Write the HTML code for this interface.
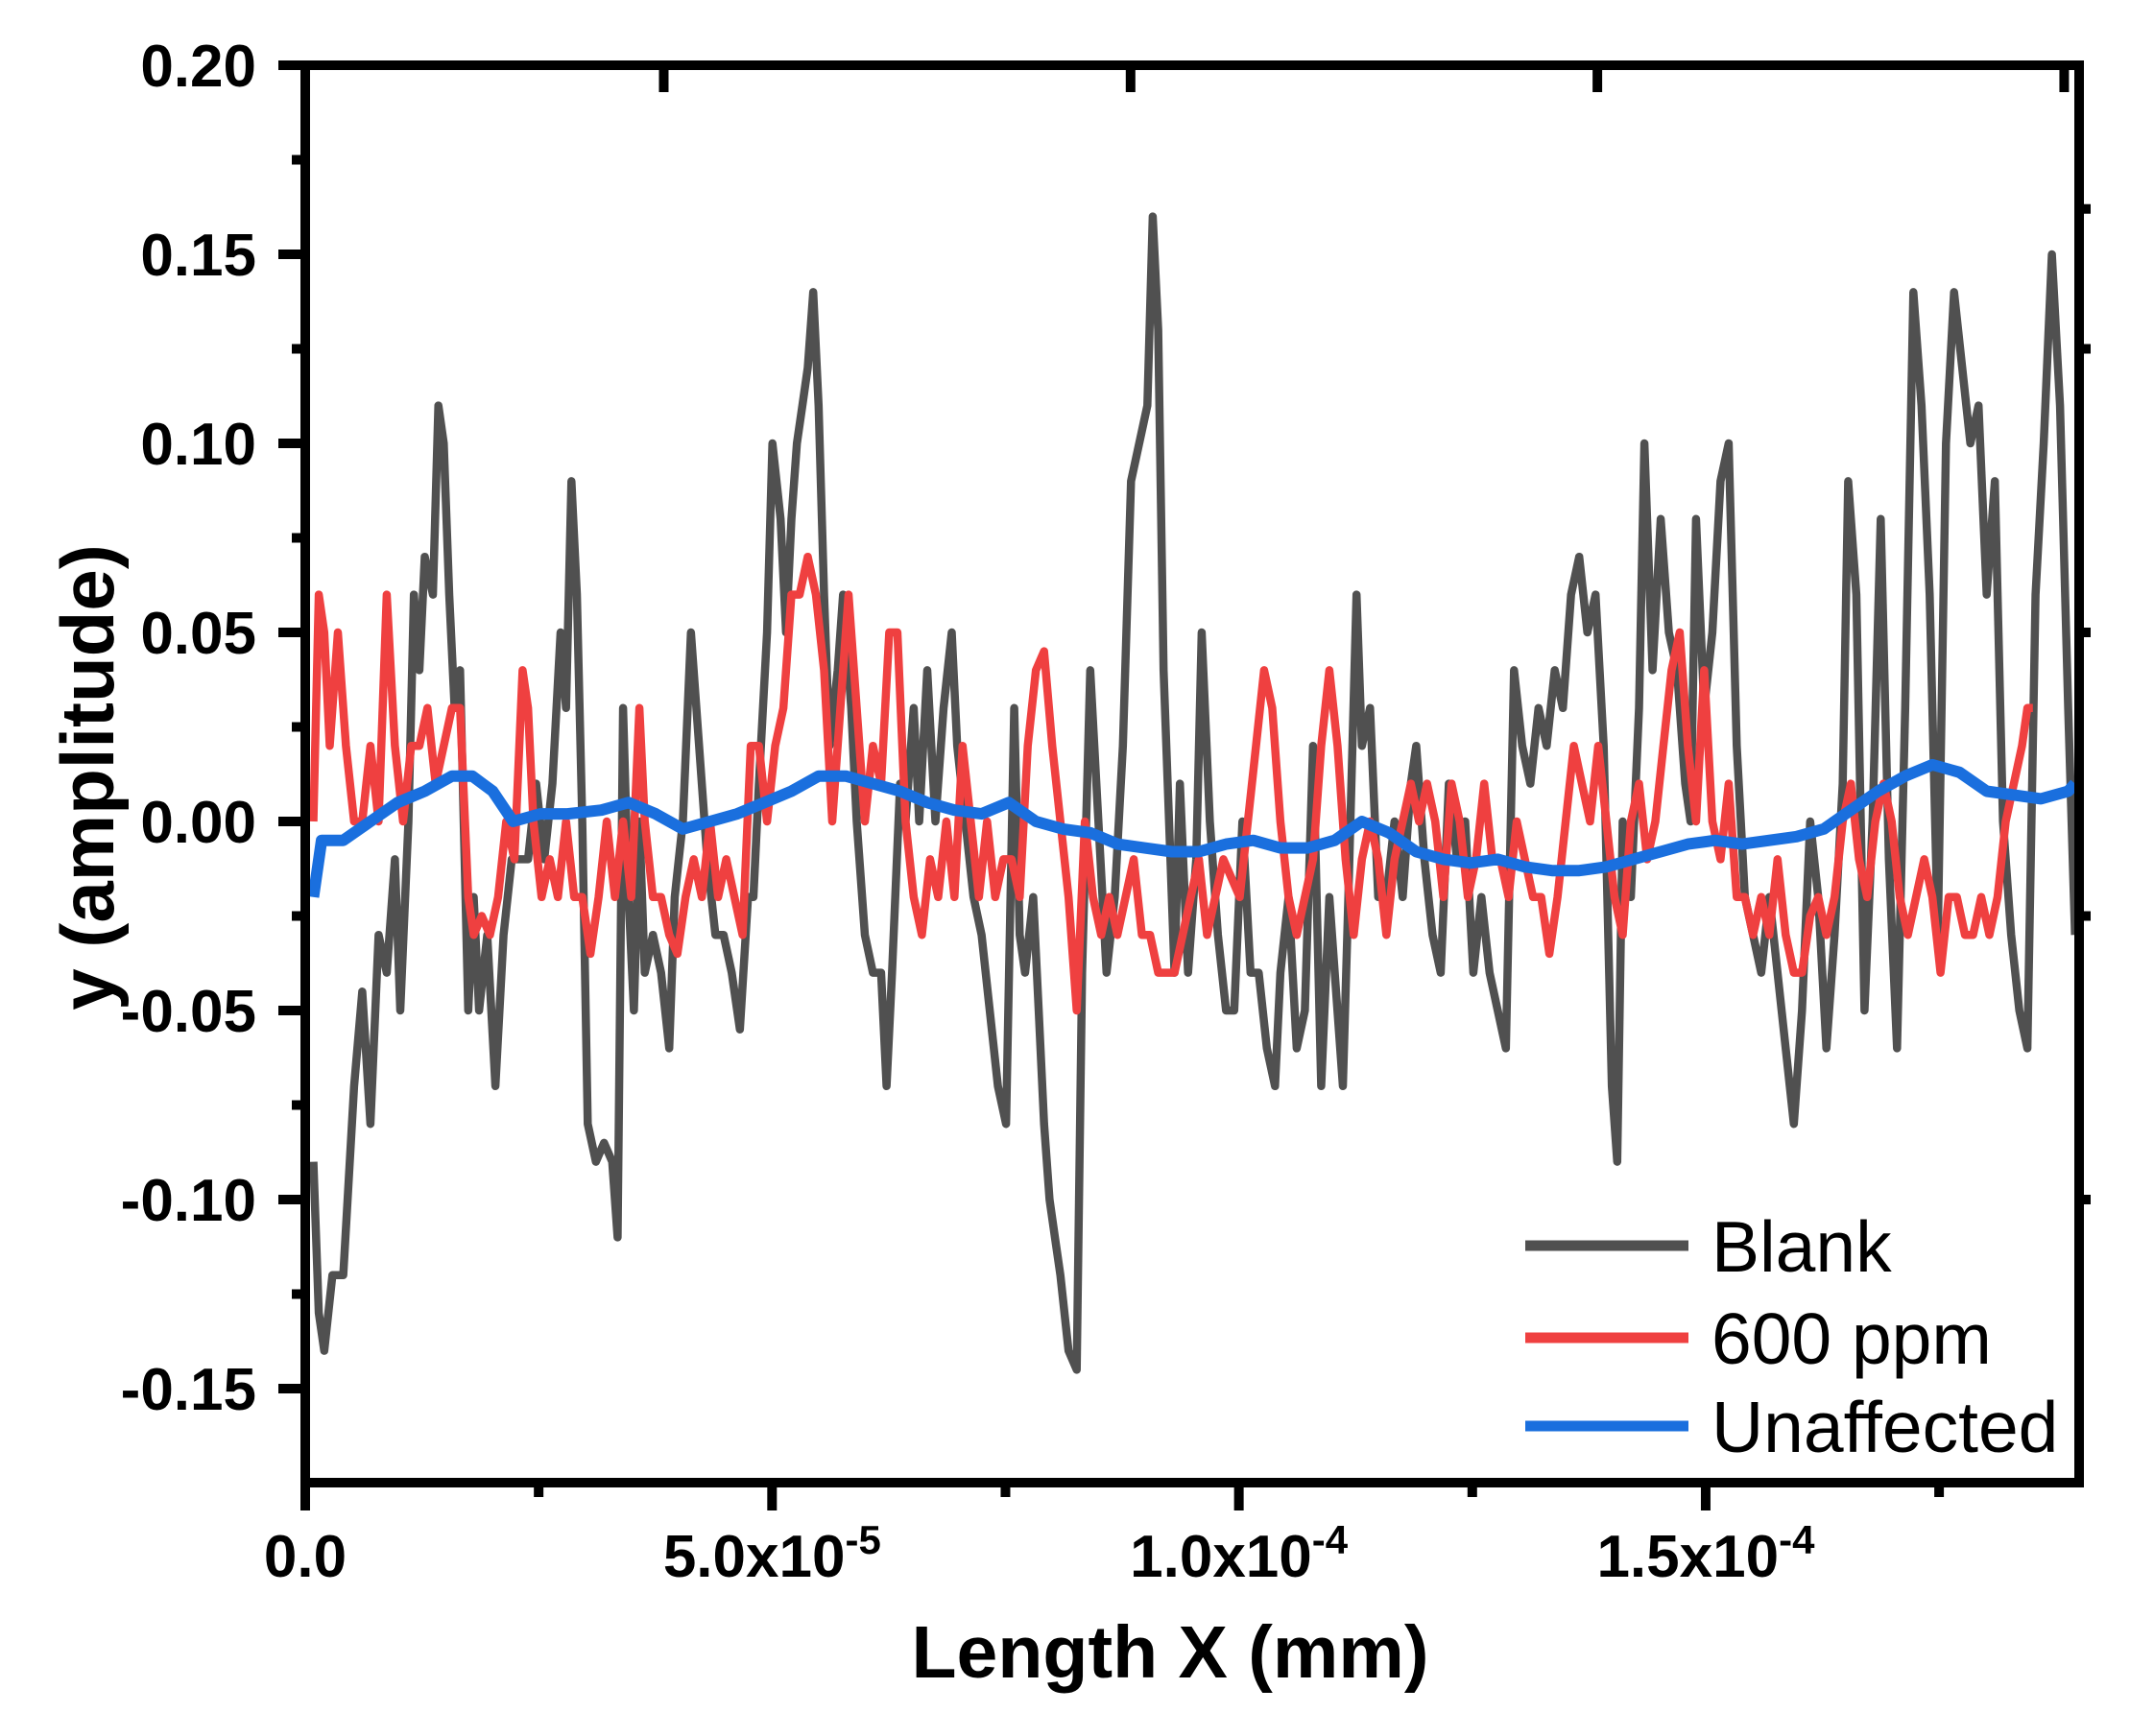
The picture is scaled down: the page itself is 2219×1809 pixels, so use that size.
<!DOCTYPE html>
<html><head><meta charset="utf-8"><style>
html,body{margin:0;padding:0;background:#fff;}
svg text{font-family:"Liberation Sans",Arial,sans-serif;}
</style></head><body>
<svg id="chart" xmlns="http://www.w3.org/2000/svg" width="2219" height="1804" viewBox="0 0 2219 1804">
<rect x="0" y="0" width="2219" height="1804" fill="#fff"/>
<g id="series"></g>
<g id="axes"></g>
<text x="1219" y="1748" font-size="77" font-weight="bold" text-anchor="middle">Length X (mm)</text>
<text transform="translate(118,810) rotate(-90)" font-size="78" font-weight="bold" text-anchor="middle">y (amplitude)</text>
<g>
<line x1="1589" y1="1298" x2="1759" y2="1298" stroke="#505050" stroke-width="11"/>
<text x="1783" y="1325" font-size="75">Blank</text>
<line x1="1589" y1="1394" x2="1759" y2="1394" stroke="#ef4040" stroke-width="11"/>
<text x="1783" y="1421" font-size="75">600 ppm</text>
<line x1="1589" y1="1486" x2="1759" y2="1486" stroke="#1a6fde" stroke-width="11"/>
<text x="1783" y="1513" font-size="75">Unaffected</text>
</g>
</svg>
<script>
// x positions are sample positions (units: 1 = 1.4548e-7 mm, offset 222)
const blankX=[228,232,236,242,250,258,264,270,276,282,288,292,298,302,306,310,316,320,324,328,332,336,342,346,350,356,362,368,374,380,386,392,398,404,410,414,418,422,426,430,436,442,448,452,456,460,464,468,472,478,484,490,494,500,506,512,518,524,530,536,542,548,552,556,562,566,572,576,580,584,588,592,596,600,604,608,614,618,624,628,634,640,646,650,654,660,664,670,674,680,686,692,698,702,708,714,720,726,732,738,744,748,752,758,762,766,770,774,778,784,790,794,800,806,812,818,824,830,836,842,846,850,854,858,862,866,872,878,882,888,894,900,906,912,918,924,930,936,940,946,952,958,964,970,976,980,986,990,996,1000,1006,1012,1018,1024,1030,1036,1040,1046,1052,1058,1064,1070,1076,1082,1088,1094,1100,1106,1112,1118,1124,1130,1136,1142,1148,1154,1160,1166,1172,1178,1184,1188,1192,1198,1204,1208,1214,1220,1226,1232,1238,1242,1246,1252,1258,1264,1270,1276,1282,1288,1294,1300,1306,1312,1318,1324,1330,1336,1342,1348,1354,1358,1364,1370,1376,1382,1388,1394,1400,1406,1412,1418,1424,1430,1436,1442,1448,1454,1460,1466,1472,1478,1484,1490,1496,1502,1508,1514,1520,1525];
const blankY=[-0.09,-0.13,-0.14,-0.12,-0.12,-0.07,-0.045,-0.08,-0.03,-0.04,-0.01,-0.05,0.0,0.06,0.04,0.07,0.06,0.11,0.10,0.06,0.03,0.04,-0.05,-0.02,-0.05,-0.03,-0.07,-0.03,-0.01,-0.01,-0.01,0.01,-0.01,0.01,0.05,0.03,0.09,0.06,0.0,-0.08,-0.09,-0.085,-0.09,-0.11,0.03,-0.02,-0.05,0.0,-0.04,-0.03,-0.04,-0.06,-0.02,0.0,0.05,0.02,-0.01,-0.03,-0.03,-0.04,-0.055,-0.02,-0.02,0.01,0.05,0.1,0.08,0.05,0.08,0.1,0.11,0.12,0.14,0.11,0.06,0.02,0.04,0.06,0.03,0.0,-0.03,-0.04,-0.04,-0.07,-0.04,0.01,0.0,0.03,0.0,0.04,0.0,0.03,0.05,0.02,0.0,-0.02,-0.03,-0.05,-0.07,-0.08,0.03,-0.03,-0.04,-0.02,-0.05,-0.08,-0.1,-0.11,-0.12,-0.14,-0.145,-0.04,0.04,0.0,-0.04,-0.02,0.02,0.09,0.1,0.11,0.16,0.13,0.04,0.0,-0.04,0.01,-0.04,-0.01,0.05,0.0,-0.03,-0.05,-0.05,0.0,-0.04,-0.04,-0.06,-0.07,-0.04,-0.02,-0.06,-0.05,0.02,-0.07,-0.02,-0.04,-0.07,-0.02,0.06,0.02,0.03,-0.02,-0.02,0.0,-0.02,0.01,0.02,-0.01,-0.03,-0.04,0.01,-0.01,0.0,-0.04,-0.02,-0.04,-0.05,-0.06,0.04,0.02,0.01,0.03,0.02,0.04,0.03,0.06,0.07,0.05,0.06,0.02,-0.07,-0.09,0.0,-0.02,0.03,0.1,0.04,0.08,0.05,0.04,0.01,0.0,0.08,0.03,0.05,0.09,0.1,0.02,-0.02,-0.03,-0.04,-0.02,-0.04,-0.06,-0.08,-0.05,0.0,-0.02,-0.06,-0.03,0.01,0.09,0.06,-0.05,0.0,0.08,-0.01,-0.06,0.03,0.14,0.11,0.06,-0.03,0.1,0.14,0.12,0.1,0.11,0.06,0.09,0.0,-0.03,-0.05,-0.06,0.06,0.1,0.15,0.11,0.03,-0.03];
const ppmX=[228,232,236,240,246,252,258,264,270,276,282,288,294,300,306,312,318,324,330,336,342,346,352,358,364,370,376,382,386,390,396,402,408,414,420,426,432,438,444,450,456,462,468,472,478,484,490,496,502,508,514,520,526,532,538,544,550,556,562,568,574,580,586,592,598,604,610,616,622,628,634,640,646,652,658,664,670,676,682,688,694,700,706,712,718,724,730,736,742,748,754,760,766,772,778,784,790,796,802,808,814,820,826,832,838,844,850,856,862,868,874,880,886,892,898,904,910,916,922,928,934,940,946,952,958,964,970,976,982,988,994,1000,1006,1012,1018,1024,1030,1036,1042,1048,1054,1060,1066,1072,1078,1084,1090,1096,1102,1108,1114,1120,1126,1132,1138,1144,1150,1156,1162,1168,1174,1180,1186,1192,1198,1204,1210,1216,1222,1228,1234,1240,1246,1252,1258,1264,1270,1276,1282,1288,1294,1300,1306,1312,1318,1324,1330,1336,1342,1348,1354,1360,1366,1372,1378,1384,1390,1396,1402,1408,1414,1420,1426,1432,1438,1444,1450,1456,1462,1468,1474,1480,1486,1490,1494];
const ppmY=[0.0,0.06,0.05,0.02,0.05,0.02,0.0,0.0,0.02,0.0,0.06,0.02,0.0,0.02,0.02,0.03,0.01,0.02,0.03,0.03,-0.02,-0.03,-0.025,-0.03,-0.02,0.0,-0.01,0.04,0.03,0.0,-0.02,-0.01,-0.02,0.0,-0.02,-0.02,-0.035,-0.02,0.0,-0.02,0.0,-0.02,0.03,0.0,-0.02,-0.02,-0.03,-0.035,-0.02,-0.01,-0.02,0.0,-0.02,-0.01,-0.02,-0.03,0.02,0.02,0.0,0.02,0.03,0.06,0.06,0.07,0.06,0.04,0.0,0.03,0.06,0.03,0.0,0.02,0.01,0.05,0.05,0.0,-0.02,-0.03,-0.01,-0.02,0.0,-0.02,0.02,0.0,-0.02,0.0,-0.02,-0.01,-0.01,-0.02,0.02,0.04,0.045,0.02,0.0,-0.02,-0.05,0.0,-0.02,-0.03,-0.02,-0.03,-0.02,-0.01,-0.03,-0.03,-0.04,-0.04,-0.04,-0.03,-0.02,-0.01,-0.03,-0.02,-0.01,-0.015,-0.02,0.0,0.02,0.04,0.03,0.0,-0.02,-0.03,-0.02,-0.01,0.02,0.04,0.02,-0.01,-0.03,-0.01,0.0,-0.01,-0.03,-0.01,0.0,0.01,0.0,0.01,0.0,-0.02,0.01,0.0,-0.02,-0.01,0.01,-0.01,-0.01,-0.02,0.0,-0.01,-0.02,-0.02,-0.035,-0.02,0.0,0.02,0.01,0.0,0.02,0.0,-0.02,-0.03,0.0,0.01,-0.01,0.0,0.02,0.04,0.05,0.02,0.0,0.04,0.0,-0.01,0.01,-0.02,-0.02,-0.03,-0.02,-0.03,-0.01,-0.03,-0.04,-0.04,-0.025,-0.02,-0.03,-0.02,0.0,0.01,-0.01,-0.02,0.0,0.01,0.0,-0.02,-0.03,-0.02,-0.01,-0.02,-0.04,-0.02,-0.02,-0.03,-0.03,-0.02,-0.03,-0.02,0.0,0.01,0.02,0.03,0.03];
const unX=[228,234,250,270,290,310,330,345,360,375,395,415,440,460,480,500,520,540,560,580,600,620,640,660,680,700,720,740,760,780,800,820,840,860,880,900,920,940,960,980,1000,1020,1040,1060,1080,1100,1120,1140,1160,1180,1200,1220,1240,1260,1280,1300,1320,1340,1360,1380,1400,1420,1440,1460,1480,1500,1520,1525];
const unY=[-0.02,-0.005,-0.005,0.0,0.005,0.008,0.012,0.012,0.008,0.0,0.002,0.002,0.003,0.005,0.002,-0.002,0.0,0.002,0.005,0.008,0.012,0.012,0.01,0.008,0.005,0.003,0.002,0.005,0.0,-0.002,-0.003,-0.006,-0.007,-0.008,-0.008,-0.006,-0.005,-0.007,-0.007,-0.005,0.0,-0.003,-0.008,-0.01,-0.011,-0.01,-0.012,-0.013,-0.013,-0.012,-0.01,-0.008,-0.006,-0.005,-0.006,-0.005,-0.004,-0.002,0.003,0.008,0.012,0.015,0.013,0.008,0.007,0.006,0.008,0.01];
const yTickVals=[0.20,0.15,0.10,0.05,0.00,-0.05,-0.10,-0.15];
const yTickLabels=["0.20","0.15","0.10","0.05","0.00","-0.05","-0.10","-0.15"];
const xTickVals=[0,5e-5,1e-4,1.5e-4];
const xTickMant=["0.0","5.0x10","1.0x10","1.5x10"];
const xTickExp=["","-5","-4","-4"];
const rightTickVals=[0.162,0.125,0.05,-0.025,-0.1];
const topTickVals=[3.84e-5,8.84e-5,1.384e-4,1.884e-4];

const NS="http://www.w3.org/2000/svg";
const L=318,R=2166,T=68,B=1545;
const SAMPLE_MM=5e-5/343.7, SAMPLE_OFF=222;
function xs(mm){return L+mm/1.9e-4*(R-L);}
function xSample(s){return xs((s-SAMPLE_OFF)*SAMPLE_MM);}
function ys(v){return T+(0.20-v)/0.05*197;}
const series=document.getElementById('series');
const axes=document.getElementById('axes');
function drawLine(xa,ya,color,w,name){
  const p=document.createElementNS(NS,'polyline');
  
  
  p.setAttribute('points',xa.map((x,i)=>xSample(x).toFixed(1)+','+ys(ya[i]).toFixed(1)).join(' '));
  p.setAttribute('fill','none');p.setAttribute('stroke',color);
  p.setAttribute('stroke-width',w);p.setAttribute('stroke-linejoin','round');
  series.appendChild(p);
}
drawLine(blankX,blankY,'#505050',8.5,'blank-line');
drawLine(ppmX,ppmY,'#ef4040',8.5,'ppm600-line');
drawLine(unX,unY,'#1a6fde',12,'unaffected-line');
function ln(x1,y1,x2,y2,w,name){
  const l=document.createElementNS(NS,'line');
  
  
  l.setAttribute('x1',x1);l.setAttribute('y1',y1);l.setAttribute('x2',x2);l.setAttribute('y2',y2);
  l.setAttribute('stroke','#000');l.setAttribute('stroke-width',w);
  axes.appendChild(l);
}
const fr=document.createElementNS(NS,'rect');


fr.setAttribute('x',L);fr.setAttribute('y',T);fr.setAttribute('width',R-L);fr.setAttribute('height',B-T);
fr.setAttribute('fill','none');fr.setAttribute('stroke','#000');fr.setAttribute('stroke-width',10);
axes.appendChild(fr);
rightTickVals.forEach(v=>{const y=ys(v);ln(R,y,R+12,y,10,'right-tick');});
topTickVals.forEach(v=>{const x=xs(v);ln(x,T,x,T+28,10,'top-tick');});
yTickVals.forEach((v,i)=>{
  const y=ys(v);
  ln(290,y,L,y,10,'y-major-tick');
  const t=document.createElementNS(NS,'text');
  
  
  t.setAttribute('x',267);t.setAttribute('y',y+22);t.setAttribute('font-size',62);
  t.setAttribute('font-weight','bold');t.setAttribute('text-anchor','end');
  t.textContent=yTickLabels[i];axes.appendChild(t);
  if(v>-0.15){const ym=ys(v-0.025);ln(304,ym,L,ym,10,'y-minor-tick');}
});
xTickVals.forEach((v,i)=>{
  const x=xs(v);
  ln(x,B,x,1574,10,'x-major-tick');
  const xm=xs(v+2.5e-5);
  if(xm<R) ln(xm,B,xm,1560,10,'x-minor-tick');
  const t=document.createElementNS(NS,'text');
  
  
  t.setAttribute('x',x);t.setAttribute('y',1643);t.setAttribute('font-size',62);
  t.setAttribute('font-weight','bold');t.setAttribute('text-anchor','middle');
  const a=document.createElementNS(NS,'tspan');a.textContent=xTickMant[i];t.appendChild(a);
  if(xTickExp[i]){const b=document.createElementNS(NS,'tspan');b.setAttribute('font-size',42);b.setAttribute('dy',-24);b.textContent=xTickExp[i];t.appendChild(b);}
  axes.appendChild(t);
});
</script>
</body></html>
